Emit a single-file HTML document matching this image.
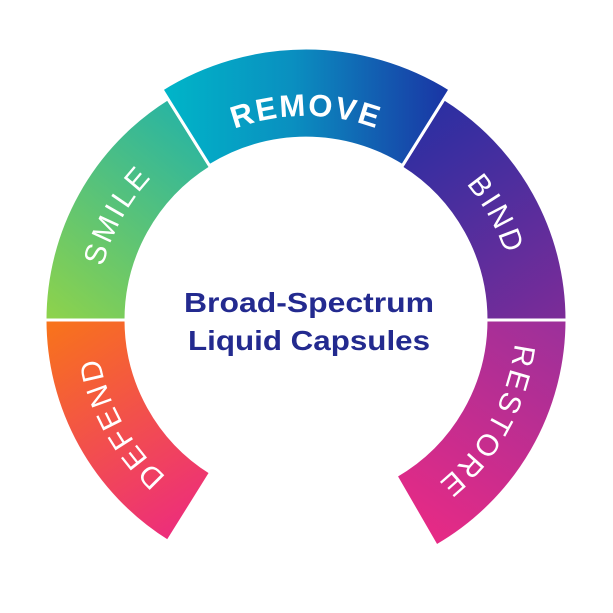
<!DOCTYPE html>
<html><head><meta charset="utf-8"><style>html,body{margin:0;padding:0;background:#fff}svg{display:block}</style></head>
<body>
<svg width="613" height="613" viewBox="0 0 613 613" xmlns="http://www.w3.org/2000/svg">
<defs>
<linearGradient id="gS" gradientUnits="userSpaceOnUse" x1="45" y1="320" x2="210" y2="110"><stop offset="0" stop-color="#8fd34a"/><stop offset="1" stop-color="#22b2a8"/></linearGradient>
<linearGradient id="gR" gradientUnits="userSpaceOnUse" x1="165" y1="0" x2="450" y2="0"><stop offset="0" stop-color="#00b5c8"/><stop offset="0.45" stop-color="#0a8fc0"/><stop offset="1" stop-color="#1a33a4"/></linearGradient>
<linearGradient id="gB" gradientUnits="userSpaceOnUse" x1="420" y1="110" x2="560" y2="320"><stop offset="0" stop-color="#2a2fa2"/><stop offset="1" stop-color="#7c2c98"/></linearGradient>
<linearGradient id="gT" gradientUnits="userSpaceOnUse" x1="560" y1="330" x2="420" y2="545"><stop offset="0" stop-color="#9e309a"/><stop offset="1" stop-color="#ea2a84"/></linearGradient>
<linearGradient id="gD" gradientUnits="userSpaceOnUse" x1="50" y1="320" x2="190" y2="540"><stop offset="0" stop-color="#f8741a"/><stop offset="1" stop-color="#ec2a80"/></linearGradient>
<path id="pS" d="M126,428.2 A210 210 0 0 1 302.3,110"/>
<path id="pB" d="M309.7,110 A210 210 0 0 1 486,428.2"/>
<path id="pR" d="M129.3,218 A204 204 0 0 1 482.7,218"/>
<path id="pD" d="M302.3,530 A210 210 0 0 1 126,211.8"/>
<path id="pT" d="M486,211.8 A210 210 0 0 1 309.7,530"/>
</defs>
<g stroke="#fff" stroke-width="3" stroke-linejoin="miter">
<path fill="url(#gS)" d="M45,320 A261,261 0 0 1 167.7,98.7 L210.6,167.4 A180,180 0 0 0 126,320 Z"/>
<path fill="url(#gB)" d="M444.3,98.7 A261 261 0 0 1 567,320 L486,320 A180 180 0 0 0 401.4,167.4 Z"/>
<path fill="url(#gD)" d="M45,320 L126,320 A180 180 0 0 0 210.6,472.6 L167.7,541.3 A261 261 0 0 1 45,320 Z"/>
<path fill="url(#gT)" d="M567,320 A261 261 0 0 1 436.5,546 L396,475.9 A180 180 0 0 0 486,320 Z"/>
<path fill="url(#gR)" d="M161.9,89.3 A272 272 0 0 1 450.1,89.3 L402.4,165.7 A182 182 0 0 0 209.6,165.7 Z"/>
</g>
<g fill="#fff" font-family="Liberation Sans, sans-serif" text-anchor="middle">
<text font-size="30" letter-spacing="3"><textPath href="#pS" startOffset="50%">SMILE</textPath></text>
<text font-size="30" letter-spacing="3"><textPath href="#pB" startOffset="50%">BIND</textPath></text>
<text font-size="30" letter-spacing="3"><textPath href="#pD" startOffset="50%">DEFEND</textPath></text>
<text font-size="30" letter-spacing="3"><textPath href="#pT" startOffset="50%">RESTORE</textPath></text>
<text font-size="31" font-weight="bold" letter-spacing="2"><textPath href="#pR" startOffset="50%">REMOVE</textPath></text>
</g>
<g fill="#232a8f" font-family="Liberation Sans, sans-serif" font-weight="bold" font-size="28">
<text x="184" y="312" textLength="250" lengthAdjust="spacingAndGlyphs">Broad-Spectrum</text>
<text x="188" y="350" textLength="242" lengthAdjust="spacingAndGlyphs">Liquid Capsules</text>
</g>
</svg>
</body></html>
